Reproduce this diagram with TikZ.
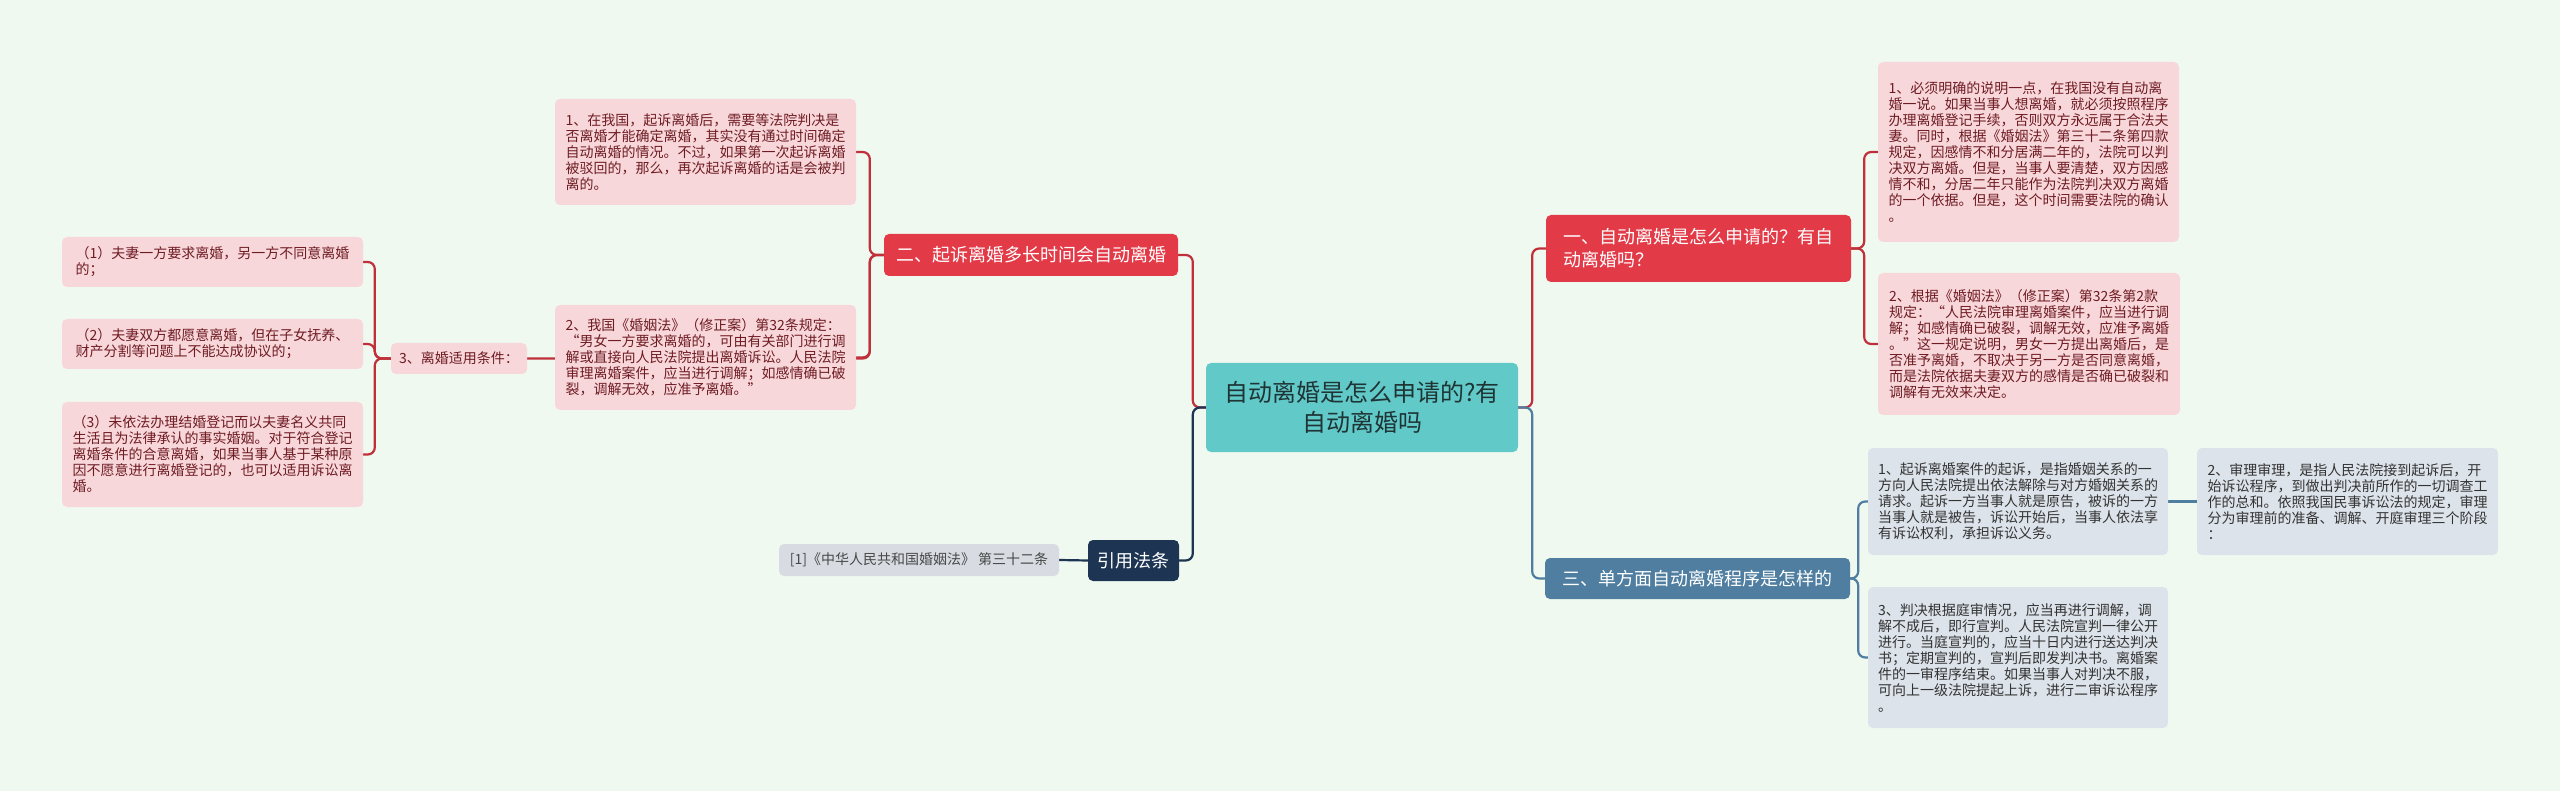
\documentclass[tikz,border=0pt]{standalone}
\usepackage{fontspec}
\setmainfont{Noto Sans CJK SC}
\usepackage{xcolor}
\usepackage{tikz}
\usetikzlibrary{backgrounds}

\definecolor{bgmint}{HTML}{F0F9F0}
\definecolor{rootteal}{HTML}{62C9C9}
\definecolor{roottext}{HTML}{1F3434}
\definecolor{branchred}{HTML}{E23A47}
\definecolor{linered}{HTML}{C0303A}
\definecolor{leafpink}{HTML}{F8D7DB}
\definecolor{leaftext}{HTML}{6E1C22}
\definecolor{citenavy}{HTML}{1D3553}
\definecolor{stageblue}{HTML}{4F7EA0}
\definecolor{leafblue}{HTML}{DCE3EA}
\definecolor{leafgray}{HTML}{D8DCE2}
\definecolor{darktext}{HTML}{333333}

\begin{document}
\begin{tikzpicture}[x=1pt, y=-1pt,
  root/.style={fill=rootteal, rounded corners=5pt, align=center,
              text=roottext, font=\fontsize{24}{30}\selectfont,
              minimum width=312pt, minimum height=89pt},
  branch/.style={rounded corners=5pt, text=white, align=left,
              font=\fontsize{18}{23}\selectfont, minimum height=41pt},
  pinkleaf/.style={fill=leafpink, rounded corners=5pt, align=left,
              text=leaftext, font=\fontsize{14}{16}\selectfont, inner sep=0pt},
  blueleaf/.style={fill=leafblue, rounded corners=5pt, align=left,
              text=darktext, font=\fontsize{14}{16}\selectfont, inner sep=0pt},
  redline/.style={draw=linered, line width=2.2pt, rounded corners=7pt},
  navyline/.style={draw=citenavy, line width=2.2pt, rounded corners=7pt},
  blueline/.style={draw=stageblue, line width=2.2pt, rounded corners=7pt}
]

  \useasboundingbox (0,0) rectangle (2560,791);
  \begin{scope}[on background layer]
    \fill[bgmint] (0,0) rectangle (2560,791);
  \end{scope}

  % Root
  \node[root] (root) at (1362,407.5) {自动离婚是怎么申请的?有\\自动离婚吗};

  % Branches
  \node[branch, fill=branchred, minimum width=294pt, minimum height=42pt]
    (b2) at (1031,255) {二、起诉离婚多长时间会自动离婚};
  \node[branch, fill=citenavy, minimum width=91pt]
    (cite) at (1133.5,560.5) {引用法条};
  \node[branch, fill=branchred, minimum width=305pt, minimum height=67pt]
    (b1) at (1698.5,248.5) {一、自动离婚是怎么申请的？有自\\动离婚吗？};
  \node[branch, fill=stageblue, minimum width=305pt]
    (b3) at (1697.5,578.5) {三、单方面自动离婚程序是怎样的};

  % Left leaves
  \node[pinkleaf, minimum width=301pt, minimum height=106pt] (l1) at (705.5,152)
    {1、在我国，起诉离婚后，需要等法院判决是\\否离婚才能确定离婚，其实没有通过时间确定\\自动离婚的情况。不过，如果第一次起诉离婚\\被驳回的，那么，再次起诉离婚的话是会被判\\离的。};
  \node[pinkleaf, minimum width=301pt, minimum height=105pt] (l2) at (705.5,357.5)
    {2、我国《婚姻法》（修正案）第32条规定：\\“男女一方要求离婚的，可由有关部门进行调\\解或直接向人民法院提出离婚诉讼。人民法院\\审理离婚案件，应当进行调解；如感情确已破\\裂，调解无效，应准予离婚。”};
  \node[pinkleaf, minimum width=136pt, minimum height=31pt] (c3) at (459,358.5)
    {3、离婚适用条件：};
  \node[pinkleaf, minimum width=301pt, minimum height=50pt] (ll1) at (212.5,262)
    {（1）夫妻一方要求离婚，另一方不同意离婚\\的；};
  \node[pinkleaf, minimum width=301pt, minimum height=50pt] (ll2) at (212.5,344)
    {（2）夫妻双方都愿意离婚，但在子女抚养、\\财产分割等问题上不能达成协议的；};
  \node[pinkleaf, minimum width=301pt, minimum height=105pt] (ll3) at (212.5,454.5)
    {（3）未依法办理结婚登记而以夫妻名义共同\\生活且为法律承认的事实婚姻。对于符合登记\\离婚条件的合意离婚，如果当事人基于某种原\\因不愿意进行离婚登记的，也可以适用诉讼离\\婚。};
  \node[blueleaf, fill=leafgray, text=darktext!90, minimum width=280pt, minimum height=32pt]
    (law) at (919,560) {[1]《中华人民共和国婚姻法》 第三十二条};

  % Right leaves
  \node[pinkleaf, minimum width=301pt, minimum height=180pt] (r1) at (2028.5,152)
    {1、必须明确的说明一点，在我国没有自动离\\婚一说。如果当事人想离婚，就必须按照程序\\办理离婚登记手续，否则双方永远属于合法夫\\妻。同时，根据《婚姻法》第三十二条第四款\\规定，因感情不和分居满二年的，法院可以判\\决双方离婚。但是，当事人要清楚，双方因感\\情不和，分居二年只能作为法院判决双方离婚\\的一个依据。但是，这个时间需要法院的确认\\。};
  \node[pinkleaf, minimum width=302pt, minimum height=142pt] (r2) at (2029,344)
    {2、根据《婚姻法》（修正案）第32条第2款\\规定：“人民法院审理离婚案件，应当进行调\\解；如感情确已破裂，调解无效，应准予离婚\\。”这一规定说明，男女一方提出离婚后，是\\否准予离婚，不取决于另一方是否同意离婚，\\而是法院依据夫妻双方的感情是否确已破裂和\\调解有无效来决定。};
  \node[blueleaf, minimum width=300pt, minimum height=107pt] (r3) at (2018,501.5)
    {1、起诉离婚案件的起诉，是指婚姻关系的一\\方向人民法院提出依法解除与对方婚姻关系的\\请求。起诉一方当事人就是原告，被诉的一方\\当事人就是被告，诉讼开始后，当事人依法享\\有诉讼权利，承担诉讼义务。};
  \node[blueleaf, minimum width=301pt, minimum height=107pt] (r4) at (2347.5,501.5)
    {2、审理审理，是指人民法院接到起诉后，开\\始诉讼程序，到做出判决前所作的一切调查工\\作的总和。依照我国民事诉讼法的规定，审理\\分为审理前的准备、调解、开庭审理三个阶段\\：};
  \node[blueleaf, minimum width=300pt, minimum height=141pt] (r5) at (2018,657.5)
    {3、判决根据庭审情况，应当再进行调解，调\\解不成后，即行宣判。人民法院宣判一律公开\\进行。当庭宣判的，应当十日内进行送达判决\\书；定期宣判的，宣判后即发判决书。离婚案\\件的一审程序结束。如果当事人对判决不服，\\可向上一级法院提起上诉，进行二审诉讼程序\\。};

  % Connectors
  \begin{scope}[on background layer]
    \coordinate (lj) at ([xshift=-13pt]root.west);
    \coordinate (rj) at ([xshift=14pt]root.east);
    \draw[redline]  (root.west) -- (lj) |- (b2.east);
    \draw[navyline] (root.west) -- (lj) |- (cite.east);
    \draw[redline]  (root.east) -- (rj) |- (b1.west);
    \draw[blueline] (root.east) -- (rj) |- (b3.west);

    \coordinate (b2j) at ([xshift=-14pt]b2.west);
    \draw[redline] (b2.west) -- (b2j) |- (l1.east);
    \draw[redline] (b2.west) -- (b2j) |- (l2.east);
    \draw[redline] (b2.west) -- (b2j) |- (c3.east);

    \coordinate (c3j) at ([xshift=-16pt]c3.west);
    \draw[redline] (c3.west) -- (c3j) |- (ll1.east);
    \draw[redline] (c3.west) -- (c3j) |- (ll2.east);
    \draw[redline] (c3.west) -- (c3j) |- (ll3.east);

    \draw[navyline] (cite.west) -- (law.east);

    \coordinate (b1j) at ([xshift=13pt]b1.east);
    \draw[redline] (b1.east) -- (b1j) |- (r1.west);
    \draw[redline] (b1.east) -- (b1j) |- (r2.west);

    \coordinate (b3j) at ([xshift=8pt]b3.east);
    \draw[blueline] (b3.east) -- (b3j) |- (r3.west);
    \draw[blueline] (b3.east) -- (b3j) |- (r5.west);
    \draw[blueline] (r3.east) -- (r4.west);
  \end{scope}

\end{tikzpicture}
\end{document}
